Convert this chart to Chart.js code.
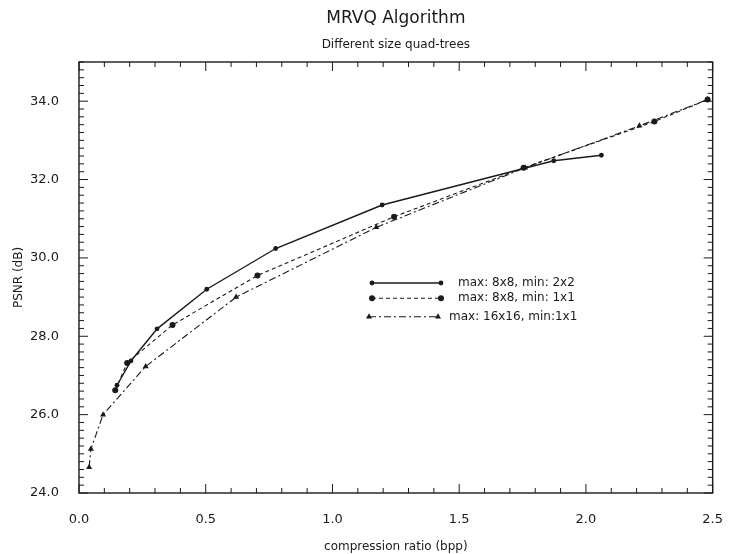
<!DOCTYPE html>
<html><head><meta charset="utf-8">
<script src="https://cdn.jsdelivr.net/npm/chart.js@4.4.1/dist/chart.umd.min.js"></script>
<style>html,body{margin:0;padding:0;background:#fff}canvas{display:block}</style>
</head><body>
<canvas id="c" width="734" height="554"></canvas>
<script>
const titleText = "MRVQ Algorithm";
const subtitleText = "Different size quad-trees";
const xAxisTitle = "compression ratio (bpp)";
const yAxisTitle = "PSNR (dB)";
const seriesNames = ["max: 8x8, min: 2x2", "max: 8x8, min: 1x1", "max: 16x16, min:1x1"];

const s1x = [0.15, 0.205, 0.308, 0.504, 0.776, 1.196, 1.873, 2.061];
const s1y = [26.75, 27.37, 28.19, 29.2, 30.24, 31.35, 32.48, 32.62];
const s2x = [0.143, 0.19, 0.369, 0.704, 1.243, 1.754, 2.27, 2.48];
const s2y = [26.62, 27.32, 28.29, 29.55, 31.05, 32.3, 33.48, 34.04];
const s3x = [0.04, 0.047, 0.095, 0.263, 0.62, 1.173, 1.76, 2.211, 2.48];
const s3y = [24.66, 25.12, 26.0, 27.23, 29.0, 30.78, 32.3, 33.37, 34.04];

const xTickValues = [0, 0.5, 1.0, 1.5, 2.0, 2.5];
const yTickValues = [24, 26, 28, 30, 32, 34];

const INK = '#1a1a1a';
const FONT = '"DejaVu Sans", sans-serif';

function pts(xs, ys) { return xs.map((v, i) => ({ x: v, y: ys[i] })); }

const styles = [
  { dash: [], width: 1.4, shape: 'circle', r: 2.4 },
  { dash: [4, 3], width: 1.1, shape: 'circle', r: 3 },
  { dash: [7, 3, 2, 3], width: 1.1, shape: 'triangle', r: 3.5 }
];
const seriesData = [pts(s1x, s1y), pts(s2x, s2y), pts(s3x, s3y)];

const datasets = seriesData.map((d, i) => ({
  label: seriesNames[i],
  data: d,
  showLine: true,
  borderColor: INK,
  backgroundColor: INK,
  borderWidth: styles[i].width,
  borderDash: styles[i].dash,
  pointStyle: styles[i].shape,
  pointRadius: styles[i].r,
  pointBorderWidth: 0,
  pointBackgroundColor: INK,
  tension: 0
}));

function line(ctx, x1, y1, x2, y2) { ctx.beginPath(); ctx.moveTo(x1, y1); ctx.lineTo(x2, y2); ctx.stroke(); }

// legend layout (pixel offsets from left of plot area)
const legendRowsY = [29.36, 28.97, 28.5];
const legendLineFrom = [293, 293, 290];
const legendLineTo = [362, 362, 359];
const legendTextAt = [379, 379, 370];

const framePlugin = {
  id: 'frameTicks',
  afterDraw(chart) {
    const { ctx, chartArea: a, scales: { x, y } } = chart;
    ctx.save();
    ctx.strokeStyle = INK;
    ctx.lineWidth = 1.4;
    ctx.strokeRect(a.left, a.top, a.right - a.left, a.bottom - a.top);
    ctx.lineWidth = 1;
    for (let i = 0; i <= 25; i++) {
      const px = x.getPixelForValue(i / 10);
      const len = (i % 5 === 0) ? 9 : 5;
      line(ctx, px, a.bottom, px, a.bottom - len);
      line(ctx, px, a.top, px, a.top + len);
    }
    for (let i = 0; i <= 55; i++) {
      const py = y.getPixelForValue(24 + i / 5);
      const len = (i % 10 === 0) ? 9 : 5;
      line(ctx, a.left, py, a.left + len, py);
      line(ctx, a.right, py, a.right - len, py);
    }
    // titles
    const cx = (a.left + a.right) / 2;
    ctx.fillStyle = INK;
    ctx.textAlign = 'center';
    ctx.textBaseline = 'middle';
    ctx.font = '17px ' + FONT;
    ctx.fillText(titleText, cx, 19);
    ctx.font = '12px ' + FONT;
    ctx.fillText(subtitleText, cx, 45);
    // legend
    ctx.font = '12px ' + FONT;
    ctx.textAlign = 'left';
    legendRowsY.forEach((v, i) => {
      const py = y.getPixelForValue(v);
      const st = styles[i];
      const lx1 = a.left + legendLineFrom[i], lx2 = a.left + legendLineTo[i];
      ctx.setLineDash(st.dash);
      ctx.lineWidth = st.width;
      line(ctx, lx1, py, lx2, py);
      ctx.setLineDash([]);
      [lx1, lx2].forEach(px => {
        Chart.helpers.drawPoint(ctx, { pointStyle: st.shape, radius: st.r, borderWidth: 0 }, px, py);
      });
      ctx.fillText(seriesNames[i], a.left + legendTextAt[i], py);
    });
    ctx.restore();
  }
};

new Chart(document.getElementById('c'), {
  type: 'scatter',
  data: { datasets },
  plugins: [framePlugin],
  options: {
    responsive: false,
    animation: false,
    layout: { padding: { top: 62, right: 12, left: 0, bottom: 0 } },
    plugins: { legend: { display: false }, tooltip: { enabled: false } },
    scales: {
      x: {
        type: 'linear', min: 0, max: 2.5,
        afterBuildTicks: s => { s.ticks = xTickValues.map(v => ({ value: v })); },
        afterFit: s => { s.height = 61; },
        grid: { display: false },
        border: { display: false },
        ticks: { color: INK, font: { family: FONT, size: 13 }, padding: 11, maxRotation: 0, callback: v => Number(v).toFixed(1) },
        title: { display: true, text: xAxisTitle, color: INK, font: { family: FONT, size: 12 }, padding: { top: 0, bottom: 0 } }
      },
      y: {
        type: 'linear', min: 24, max: 35,
        afterBuildTicks: s => { s.ticks = yTickValues.map(v => ({ value: v })); },
        afterFit: s => { s.width = 79; },
        grid: { display: false },
        border: { display: false },
        ticks: { color: INK, font: { family: FONT, size: 13 }, padding: 12, callback: v => Number(v).toFixed(1) },
        title: { display: true, text: yAxisTitle, color: INK, font: { family: FONT, size: 12 }, padding: { top: 12, bottom: 0 } }
      }
    }
  }
});
</script>
</body></html>
